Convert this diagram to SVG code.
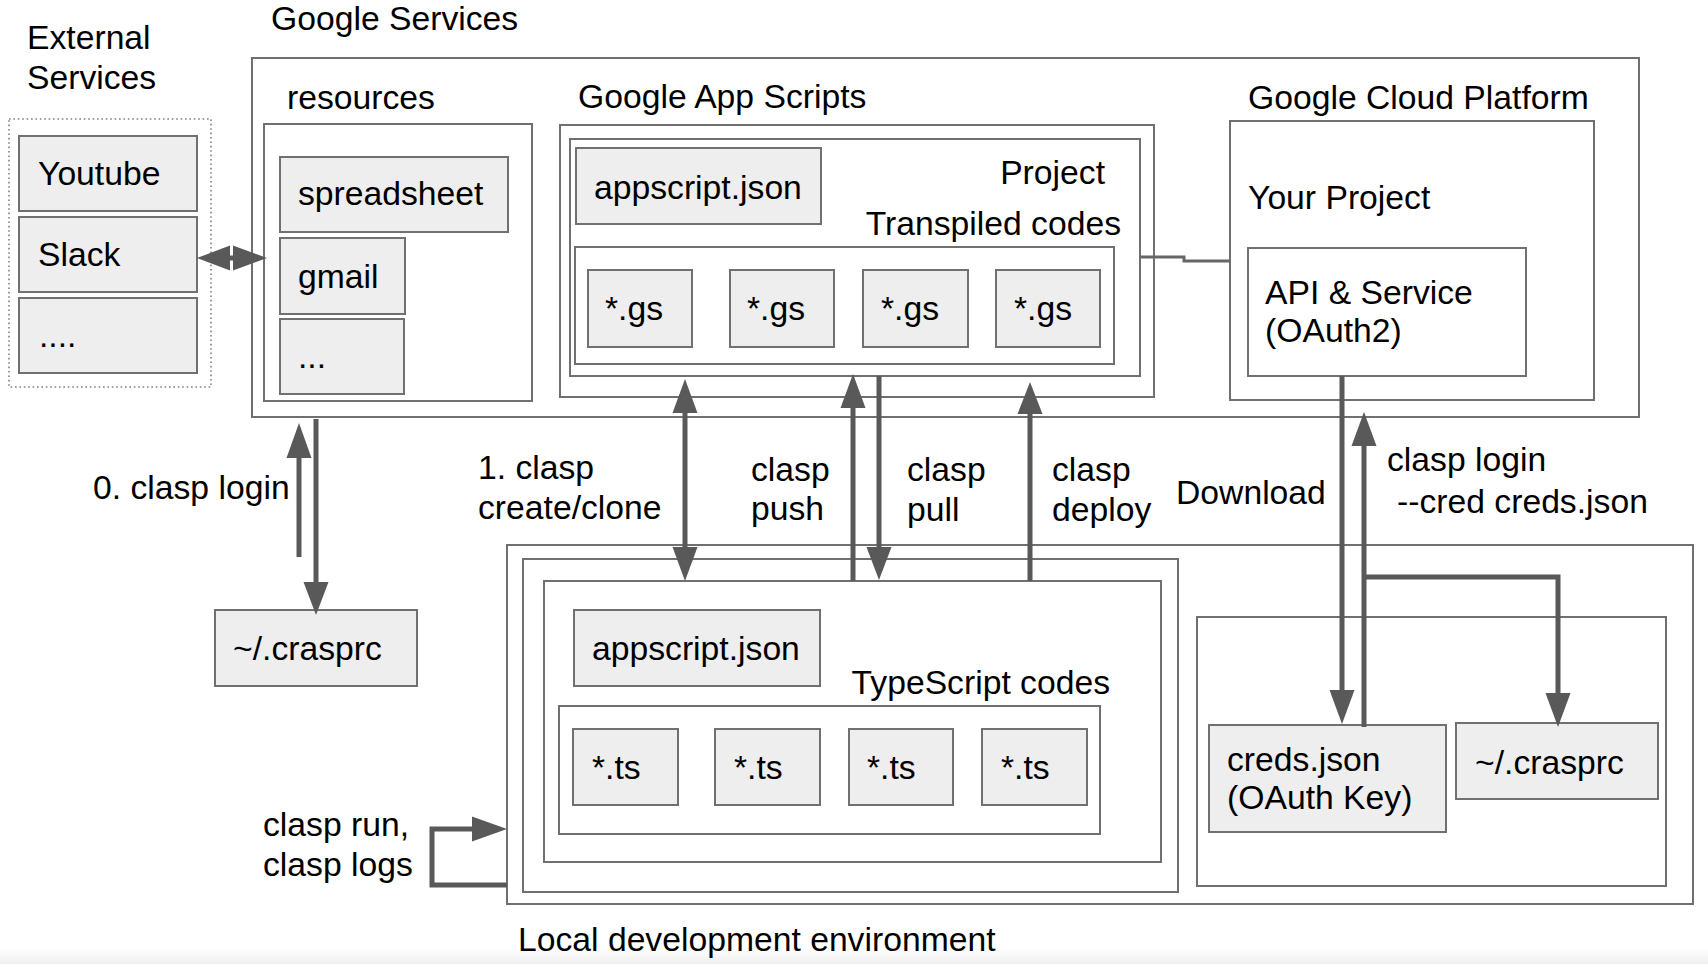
<svg xmlns="http://www.w3.org/2000/svg" width="1708" height="964" viewBox="0 0 1708 964">
<defs>
<style>
text{font-family:"Liberation Sans",Arial,sans-serif;font-size:33.7px;fill:#000}
.box{fill:#fff;stroke:#707070;stroke-width:2}
.item{fill:#eeeeee;stroke:#707070;stroke-width:2}
.dot{fill:none;stroke:#808080;stroke-width:1.6;stroke-dasharray:1.6 2.8}
.arr{fill:none;stroke:#595959;stroke-width:5}
.head{fill:#595959}
.thin{fill:none;stroke:#666;stroke-width:3}
</style>
<linearGradient id="fade" x1="0" y1="0" x2="0" y2="1">
<stop offset="0" stop-color="#ffffff"/>
<stop offset="1" stop-color="#efefef"/>
</linearGradient>
</defs>
<rect x="0" y="0" width="1708" height="964" fill="#fff"/>
<rect x="0" y="948" width="1708" height="16" fill="url(#fade)"/>

<g id="external">
<text x="27" y="49">External</text>
<text x="27" y="89">Services</text>
<rect class="dot" x="9" y="119" width="202" height="268"/>
<g id="youtube"><rect class="item" x="19" y="136" width="178" height="75"/><text x="38" y="185">Youtube</text></g>
<g id="slack"><rect class="item" x="19" y="217" width="178" height="75"/><text x="38" y="266">Slack</text></g>
<g id="ext-more"><rect class="item" x="19" y="298" width="178" height="75"/><text x="39" y="347">....</text></g>
</g>

<g id="google-services">
<text x="271" y="30">Google Services</text>
<rect class="box" x="252" y="58" width="1387" height="359"/>
</g>

<g id="resources">
<text x="287" y="109">resources</text>
<rect class="box" x="264" y="124" width="268" height="277"/>
<g id="spreadsheet"><rect class="item" x="280" y="157" width="228" height="75"/><text x="298" y="205">spreadsheet</text></g>
<g id="gmail"><rect class="item" x="280" y="238" width="125" height="76"/><text x="298" y="288">gmail</text></g>
<g id="res-more"><rect class="item" x="280" y="319" width="124" height="75"/><text x="298" y="368">...</text></g>
</g>

<g id="gas">
<text x="578" y="108">Google App Scripts</text>
<rect class="box" x="560" y="125" width="594" height="272"/>
<g id="project">
<rect class="box" x="570" y="139" width="570" height="237"/>
<text x="1105" y="184" text-anchor="end">Project</text>
<g id="gas-appscript"><rect class="item" x="576" y="148" width="245" height="76"/><text x="594" y="199">appscript.json</text></g>
<text x="1121" y="235" text-anchor="end">Transpiled codes</text>
<g id="transpiled">
<rect class="box" x="575" y="247" width="539" height="117"/>
<g id="gs1"><rect class="item" x="588" y="270" width="104" height="77"/><text x="605" y="320">*.gs</text></g>
<g id="gs2"><rect class="item" x="730" y="270" width="104" height="77"/><text x="747" y="320">*.gs</text></g>
<g id="gs3"><rect class="item" x="863" y="270" width="105" height="77"/><text x="881" y="320">*.gs</text></g>
<g id="gs4"><rect class="item" x="996" y="270" width="104" height="77"/><text x="1014" y="320">*.gs</text></g>
</g>
</g>
</g>

<g id="gcp">
<text x="1248" y="109">Google Cloud Platform</text>
<rect class="box" x="1230" y="121" width="364" height="279"/>
<text x="1248" y="209">Your Project</text>
<g id="api"><rect class="box" x="1248" y="248" width="278" height="128"/><text x="1265" y="304">API &amp; Service</text><text x="1265" y="342">(OAuth2)</text></g>
</g>

<g id="crasprc-global"><rect class="item" x="215" y="610" width="202" height="76"/><text x="233" y="660">~/.crasprc</text></g>

<g id="local">
<rect class="box" x="507" y="545" width="1186" height="359"/>
<text x="518" y="951">Local development environment</text>
<rect class="box" x="523" y="559" width="655" height="333"/>
<rect class="box" x="544" y="581" width="617" height="281"/>
<g id="local-appscript"><rect class="item" x="574" y="610" width="246" height="76"/><text x="592" y="660">appscript.json</text></g>
<text x="1110" y="694" text-anchor="end">TypeScript codes</text>
<g id="ts-codes">
<rect class="box" x="559" y="706" width="541" height="128"/>
<g id="ts1"><rect class="item" x="573" y="729" width="105" height="76"/><text x="592" y="779">*.ts</text></g>
<g id="ts2"><rect class="item" x="715" y="729" width="105" height="76"/><text x="734" y="779">*.ts</text></g>
<g id="ts3"><rect class="item" x="849" y="729" width="104" height="76"/><text x="867" y="779">*.ts</text></g>
<g id="ts4"><rect class="item" x="982" y="729" width="105" height="76"/><text x="1001" y="779">*.ts</text></g>
</g>
<g id="cred-area">
<rect class="box" x="1197" y="617" width="469" height="269"/>
<g id="creds"><rect class="item" x="1209" y="725" width="237" height="107"/><text x="1227" y="771">creds.json</text><text x="1227" y="809">(OAuth Key)</text></g>
<g id="crasprc-local"><rect class="item" x="1456" y="723" width="202" height="76"/><text x="1475" y="774">~/.crasprc</text></g>
</g>
</g>

<g id="connectors">
<path class="thin" d="M1140 257 H1184 V261 H1230"/>
<line class="arr" x1="225" y1="258" x2="238" y2="258"/>
<polygon class="head" points="197,258 230,245.5 230,270.5"/>
<polygon class="head" points="267,258 233,245.5 233,270.5"/>
<line class="arr" x1="299" y1="557" x2="299" y2="455"/>
<polygon class="head" points="299,423 286.5,458 311.5,458"/>
<line class="arr" x1="316" y1="419" x2="316" y2="585"/>
<polygon class="head" points="316,615 303.5,582 328.5,582"/>
<line class="arr" x1="685" y1="410" x2="685" y2="550"/>
<polygon class="head" points="685,379 672.5,413 697.5,413"/>
<polygon class="head" points="685,581 672.5,547 697.5,547"/>
<line class="arr" x1="853" y1="581" x2="853" y2="405"/>
<polygon class="head" points="853,374 840.5,408 865.5,408"/>
<line class="arr" x1="879" y1="376" x2="879" y2="550"/>
<polygon class="head" points="879,580 866.5,547 891.5,547"/>
<line class="arr" x1="1030" y1="581" x2="1030" y2="411"/>
<polygon class="head" points="1030,382 1017.5,414 1042.5,414"/>
<line class="arr" x1="1342" y1="376" x2="1342" y2="693"/>
<polygon class="head" points="1342,724 1329.5,690 1354.5,690"/>
<line class="arr" x1="1364" y1="727" x2="1364" y2="443"/>
<polygon class="head" points="1364,412 1351.5,446 1376.5,446"/>
<path class="arr" d="M1364 577 H1558 V696"/>
<polygon class="head" points="1558,727 1545.5,693 1570.5,693"/>
<path class="arr" d="M507 885 H432 V829 H475"/>
<polygon class="head" points="507,829 472,816.5 472,841.5"/>
</g>

<g id="labels">
<text x="93" y="499">0. clasp login</text>
<text x="478" y="479">1. clasp</text>
<text x="478" y="519">create/clone</text>
<text x="751" y="481">clasp</text>
<text x="751" y="520">push</text>
<text x="907" y="481">clasp</text>
<text x="907" y="521">pull</text>
<text x="1052" y="481">clasp</text>
<text x="1052" y="521">deploy</text>
<text x="1176" y="504">Download</text>
<text x="1387" y="471">clasp login</text>
<text x="1397" y="513">--cred creds.json</text>
<text x="263" y="836">clasp run,</text>
<text x="263" y="876">clasp logs</text>
</g>
</svg>
